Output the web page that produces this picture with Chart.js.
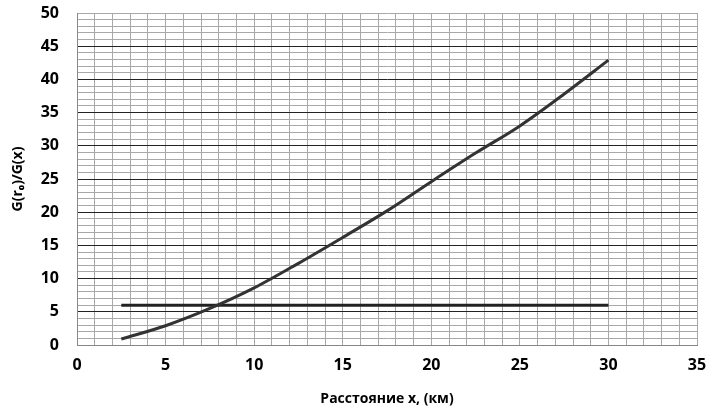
<!DOCTYPE html>
<html>
<head>
<meta charset="utf-8">
<script src="https://cdn.jsdelivr.net/npm/chart.js@4/dist/chart.umd.min.js"></script>
<style>
  html, body { margin: 0; padding: 0; background: #fff; }
  #wrap { width: 708px; height: 417px; }
</style>
</head>
<body>
<div id="wrap"><canvas id="ratioChart"></canvas></div>
<script>
// distance, km
const distX = [2.5, 5, 7.5, 10, 12.5, 15, 17.5, 20, 22.5, 25, 27.5, 30];
// G(r0)/G(x)
const ratioY = [0.9, 2.9, 5.5, 8.6, 12.3, 16.2, 20.2, 24.6, 28.9, 33.0, 37.8, 42.9];
// threshold level
const levelX = [2.5, 30];
const levelY = [6, 6];

const xTickLabels = [0, 5, 10, 15, 20, 25, 30, 35];
const yTickLabels = [0, 5, 10, 15, 20, 25, 30, 35, 40, 45, 50];

const tickFont = { family: 'Open Sans', size: 16, weight: 'bold' };

const ctx = document.getElementById('ratioChart').getContext('2d');
new Chart(ctx, {
    type: 'line',
    data: {
        datasets: [{
            data: distX.map((x, i) => ({ x: x, y: ratioY[i] })),
            borderColor: '#333',
            borderWidth: 3,
            pointRadius: 0,
            cubicInterpolationMode: 'monotone',
            fill: false
        }, {
            data: levelX.map((x, i) => ({ x: x, y: levelY[i] })),
            borderColor: '#222',
            borderWidth: 3,
            pointRadius: 0,
            fill: false
        }]
    },
    options: {
        responsive: true,
        maintainAspectRatio: false,
        animation: false,
        layout: { padding: { top: 13, right: 11, left: 0, bottom: 0 } },
        plugins: {
            legend: { display: false },
            tooltip: { enabled: false }
        },
        scales: {
            x: {
                type: 'linear',
                min: 0,
                max: 35,
                ticks: {
                    stepSize: 1,
                    autoSkip: false,
                    maxRotation: 0,
                    padding: 11,
                    color: '#000',
                    font: tickFont,
                    callback: v => xTickLabels.includes(v) ? String(v) : ''
                },
                grid: { color: '#a8a8a8', lineWidth: 1, drawTicks: false },
                border: { color: '#888' },
                title: {
                    display: true,
                    text: 'Расстояние x, (км)',
                    color: '#000',
                    font: { family: 'Open Sans', size: 14, weight: 'bold' },
                    padding: { top: 4, bottom: 10 }
                },
                afterFit: s => {
                    s.height = 72;
                    s.paddingLeft = 0;
                    s.paddingRight = 0;
                }
            },
            y: {
                min: 0,
                max: 50,
                ticks: {
                    stepSize: 1,
                    autoSkip: false,
                    padding: 18,
                    color: '#000',
                    font: tickFont,
                    callback: v => yTickLabels.includes(v) ? String(v) : ''
                },
                grid: {
                    drawTicks: false,
                    lineWidth: 1,
                    color: c => (c.tick && c.tick.value % 5 === 0 && c.tick.value !== 50) ? '#222' : '#a8a8a8'
                },
                border: { color: '#888' },
                title: {
                    display: true,
                    text: 'G(r₀)/G(x)',
                    color: '#000',
                    font: { family: 'Open Sans', size: 14, weight: 'bold' },
                    padding: { top: 10, bottom: 0 }
                },
                afterFit: s => {
                    s.width = 77;
                    s.paddingTop = 0;
                    s.paddingBottom = 0;
                }
            }
        }
    }
});
</script>
</body>
</html>
